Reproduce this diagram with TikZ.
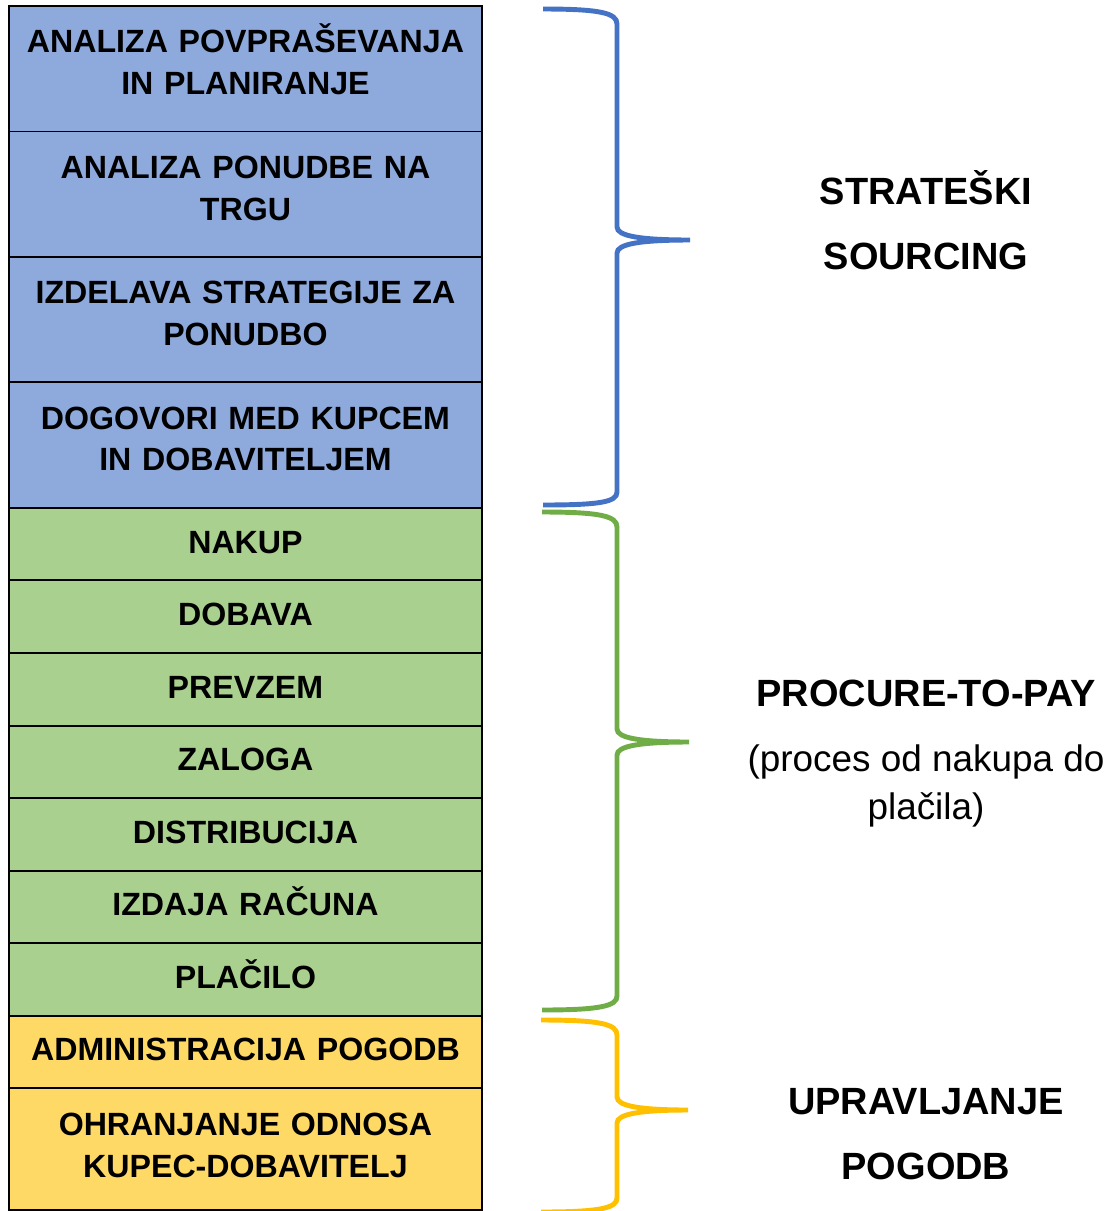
\documentclass[tikz,border=0pt]{standalone}
\usepackage{fontspec}
\setmainfont{Liberation Sans}
\usetikzlibrary{positioning}

\definecolor{fillblue}{HTML}{8EA9DB}
\definecolor{fillgreen}{HTML}{A9D08E}
\definecolor{fillyellow}{HTML}{FFD966}
\definecolor{braceblue}{HTML}{4472C4}
\definecolor{bracegreen}{HTML}{70AD47}
\definecolor{braceyellow}{HTML}{FFC000}

\tikzset{
  stage/.style={draw=black, line width=1.1pt, outer sep=0pt, inner sep=0pt,
    minimum width=9.46cm, text width=9.2cm, align=center, text height=0.46cm,
    font=\fontsize{18.3}{23.8}\selectfont\bfseries},
  tallstage/.style={stage, minimum height=2.51cm, text depth=1.1cm},
  shortstage/.style={stage, minimum height=1.4514cm, text depth=0.1cm},
  grouplabel/.style={align=center, font=\fontsize{21.6}{36.9}\selectfont\bfseries},
  groupnote/.style={align=center, font=\fontsize{21}{27.8}\selectfont},
  groupbrace/.style={line width=2.8pt},
}

\begin{document}
\begin{tikzpicture}[x=0.02cm, y=-0.02cm]

    \useasboundingbox (0,0) rectangle (1117,1211);

    % strateski sourcing
    \node [tallstage, fill=fillblue, anchor=north west] (demand) at (9,6)
        {ANALIZA POVPRAŠEVANJA\\IN PLANIRANJE};
    \node [tallstage, fill=fillblue, below=0pt of demand] (market)
        {ANALIZA PONUDBE NA\\TRGU};
    \node [tallstage, fill=fillblue, below=0pt of market] (strategy)
        {IZDELAVA STRATEGIJE ZA\\PONUDBO};
    \node [tallstage, fill=fillblue, below=0pt of strategy] (deals)
        {DOGOVORI MED KUPCEM\\IN DOBAVITELJEM};

    % procure-to-pay
    \node [shortstage, fill=fillgreen, below=0pt of deals] (purchase) {NAKUP};
    \node [shortstage, fill=fillgreen, below=0pt of purchase] (supply) {DOBAVA};
    \node [shortstage, fill=fillgreen, below=0pt of supply] (receipt) {PREVZEM};
    \node [shortstage, fill=fillgreen, below=0pt of receipt] (stock) {ZALOGA};
    \node [shortstage, fill=fillgreen, below=0pt of stock] (distrib) {DISTRIBUCIJA};
    \node [shortstage, fill=fillgreen, below=0pt of distrib] (invoice) {IZDAJA RAČUNA};
    \node [shortstage, fill=fillgreen, below=0pt of invoice] (payment) {PLAČILO};

    % upravljanje pogodb
    \node [shortstage, minimum height=1.44cm, fill=fillyellow, below=0pt of payment] (admin)
        {ADMINISTRACIJA POGODB};
    \node [tallstage, minimum height=2.44cm, text depth=1.0cm, fill=fillyellow, below=0pt of admin] (relation)
        {OHRANJANJE ODNOSA\\KUPEC-DOBAVITELJ};

    % braces
    \draw [groupbrace, braceblue] (543,9) .. controls (600,9) and (617,13) .. (617,24)
        -- (617,227) .. controls (617,236) and (640,240) .. (690,240)
        .. controls (640,240) and (617,244) .. (617,253)
        -- (617,492) .. controls (617,502) and (600,505) .. (543,505);
    \draw [groupbrace, bracegreen] (542,512) .. controls (600,512) and (617,516) .. (617,527)
        -- (617,729) .. controls (617,738) and (640,742) .. (689,742)
        .. controls (640,742) and (617,746) .. (617,755)
        -- (617,996) .. controls (617,1006) and (600,1010) .. (542,1010);
    \draw [groupbrace, braceyellow] (541,1020) .. controls (600,1020) and (617,1024) .. (617,1035)
        -- (617,1097) .. controls (617,1106) and (640,1110) .. (688,1110)
        .. controls (640,1110) and (617,1114) .. (617,1123)
        -- (617,1198) .. controls (617,1208) and (600,1212) .. (541,1212);

    % labels
    \node [grouplabel] (sourcing) at (926,220) {STRATEŠKI\\SOURCING};
    \node [grouplabel] (ptp) at (926,693) {PROCURE-TO-PAY};
    \node [groupnote] (ptpnote) at (926,786) {(proces od nakupa do\\plačila)};
    \node [grouplabel] (contracts) at (926,1134) {UPRAVLJANJE\\POGODB};

\end{tikzpicture}
\end{document}
